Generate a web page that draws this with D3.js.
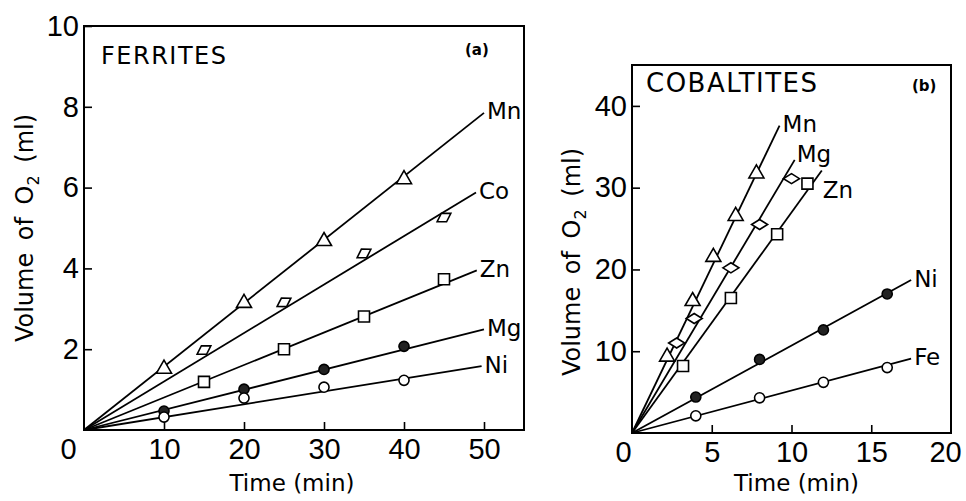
<!DOCTYPE html>
<html>
<head>
<meta charset="utf-8">
<title>Ferrites and cobaltites</title>
<style>
  body { margin: 0; background: #fff; }
  svg text { fill: #000; }
</style>
</head>
<body>
<svg id="chart" xmlns="http://www.w3.org/2000/svg" width="966" height="501"></svg>

<script src="https://cdn.jsdelivr.net/npm/d3@7/dist/d3.min.js"></script>
<script>
// ---- data ----
// (a) ferrites
const ferriteNames   = ["Mn", "Co", "Zn", "Mg", "Ni"];
const ferriteMarkers = ["triangle", "diamond", "square", "dot", "circle"];
const ferriteTimes = [
  [10, 20, 30, 40],
  [15, 25, 35, 45],
  [15, 25, 35, 45],
  [10, 20, 30, 40],
  [10, 20, 30, 40]
];
const ferriteVolumes = [
  [1.53, 3.16, 4.69, 6.22],
  [1.98, 3.16, 4.37, 5.26],
  [1.19, 2.0, 2.81, 3.73],
  [0.47, 1.01, 1.5, 2.07],
  [0.32, 0.79, 1.06, 1.23]
];
// where each fitted line stops (time, volume)
const ferriteLineEnds = [[50, 7.85], [49, 5.88], [49.1, 3.95], [50, 2.49], [49.7, 1.58]];
const ferriteXTicks = [0, 10, 20, 30, 40, 50];
const ferriteYTicks = [2, 4, 6, 8, 10];

// (b) cobaltites
const cobaltNames   = ["Mn", "Mg", "Zn", "Ni", "Fe"];
const cobaltMarkers = ["triangle", "diamond", "square", "dot", "circle"];
const cobaltTimes = [
  [2.2, 3.8, 5.1, 6.5, 7.8],
  [2.8, 3.9, 6.2, 8.0, 10.0],
  [3.2, 6.2, 9.1, 11.0],
  [4, 8, 12, 16],
  [4, 8, 12, 16]
];
const cobaltVolumes = [
  [9.4, 16.2, 21.6, 26.6, 31.8],
  [11.0, 14.0, 20.2, 25.5, 31.1],
  [8.2, 16.5, 24.3, 30.5],
  [4.4, 9.0, 12.6, 17.0],
  [2.1, 4.3, 6.2, 8.0]
];
const cobaltLineEnds = [[9.25, 37.6], [10.2, 33.4], [11.9, 32.1], [17.5, 18.7], [17.5, 9.1]];
const cobaltXTicks = [0, 5, 10, 15, 20];
const cobaltYTicks = [10, 20, 30, 40];

// ---- drawing ----
const svg = d3.select("#chart");
const tickFont = "'Liberation Sans', Arial, sans-serif";
const textFont = "'DejaVu Sans', Verdana, sans-serif";

function markerPath(kind) {
  if (kind === "triangle") return "M0,-8L7.5,5L-7.5,5Z";
  if (kind === "diamond") return "M-8,0L0,-5L8,0L0,5Z";
  if (kind === "square") return "M-5.5,-5.5H5.5V5.5H-5.5Z";
  return d3.symbol(d3.symbolCircle, 80)();
}

function drawPanel(p) {
  const x = d3.scaleLinear().domain(p.xDomain).range(p.xRange);
  const y = d3.scaleLinear().domain(p.yDomain).range(p.yRange);
  const g = svg.append("g");

  // frame
  g.append("rect")
    .attr("x", p.xRange[0]).attr("y", p.yRange[1])
    .attr("width", p.xRange[1] - p.xRange[0])
    .attr("height", p.yRange[0] - p.yRange[1])
    .attr("fill", "none").attr("stroke", "#000").attr("stroke-width", 2);

  // axes, ticks pointing inward
  const xa = g.append("g")
    .attr("transform", `translate(0,${p.yRange[0]})`)
    .call(d3.axisBottom(x).tickValues(p.xTicks).tickSize(-8).tickPadding(8));
  const ya = g.append("g")
    .attr("transform", `translate(${p.xRange[0]},0)`)
    .call(d3.axisLeft(y).tickValues(p.yTicks).tickSize(-8).tickPadding(5));
  [xa, ya].forEach(a => {
    a.select(".domain").remove();
    a.selectAll("line").attr("stroke", "#000").attr("stroke-width", 1.6);
    a.selectAll("text").attr("font-family", tickFont).attr("font-size", 29).attr("fill", "#000");
  });
  xa.selectAll(".tick").filter(d => d === 0).select("line").remove();
  xa.selectAll(".tick").filter(d => d === 0).select("text").attr("dx", p.zeroShift);
  xa.selectAll(".tick").filter(d => d === p.xDomain[1]).select("line").remove();
  xa.selectAll(".tick").filter(d => d === p.xTicks[p.xTicks.length - 1])
    .select("text").attr("dx", p.lastShift);

  // fitted lines through the origin
  p.ends.forEach((e, i) => {
    g.append("line")
      .attr("x1", x(0)).attr("y1", y(0))
      .attr("x2", x(e[0])).attr("y2", y(e[1]))
      .attr("stroke", "#000").attr("stroke-width", 1.8);
    const nudge = p.nudge[p.names[i]] || [3, 0];
    g.append("text")
      .attr("x", x(e[0]) + nudge[0]).attr("y", y(e[1]) + nudge[1])
      .attr("dominant-baseline", "middle")
      .attr("font-family", textFont).attr("font-size", 23)
      .text(p.names[i]);
  });

  // markers
  p.times.forEach((ts, i) => {
    const e = p.ends[i];
    const ang = Math.atan2(y(e[1]) - y(0), x(e[0]) - x(0)) * 180 / Math.PI;
    const kind = p.markers[i];
    g.append("g").selectAll("path")
      .data(ts.map((t, j) => [t, p.vols[i][j]]))
      .join("path")
        .attr("d", markerPath(kind))
        .attr("transform", d => `translate(${x(d[0])},${y(d[1])})` +
          (kind === "diamond" && p.tiltDiamonds ? ` rotate(${ang})` : ""))
        .attr("fill", kind === "dot" ? "#222" : "#fff")
        .attr("stroke", "#000").attr("stroke-width", 1.6);
  });

  // titles and axis labels
  g.append("text")
    .attr("x", p.titlePos[0]).attr("y", p.titlePos[1])
    .attr("font-family", textFont).attr("font-size", p.titleSize)
    .attr("letter-spacing", 1.5)
    .text(p.title);
  g.append("text")
    .attr("x", p.tagPos[0]).attr("y", p.tagPos[1])
    .attr("font-family", textFont).attr("font-size", 15).attr("font-weight", "bold")
    .text(p.tag);
  g.append("text")
    .attr("x", (p.xRange[0] + p.xRange[1]) / 2 + p.xLabelShift).attr("y", 491)
    .attr("text-anchor", "middle")
    .attr("font-family", textFont).attr("font-size", 23)
    .text("Time (min)");
  const yl = g.append("text")
    .attr("transform", `translate(${p.yLabelPos[0]},${p.yLabelPos[1]}) rotate(-90)`)
    .attr("text-anchor", "middle")
    .attr("font-family", textFont).attr("font-size", 24)
    .attr("word-spacing", 5);
  yl.append("tspan").text("Volume of O");
  yl.append("tspan").attr("font-size", 16).attr("dy", 6).text("2");
  yl.append("tspan").attr("dy", -6).text(" (ml)");
}

drawPanel({
  names: ferriteNames, markers: ferriteMarkers, times: ferriteTimes,
  vols: ferriteVolumes, ends: ferriteLineEnds,
  xTicks: ferriteXTicks, yTicks: ferriteYTicks,
  xDomain: [0, 55], yDomain: [0, 10],
  xRange: [84, 524], yRange: [430, 26],
  zeroShift: -16, lastShift: 0, tiltDiamonds: true, nudge: {},
  title: "FERRITES", titlePos: [101, 64], titleSize: 24,
  tag: "(a)", tagPos: [465, 55],
  xLabelShift: -12, yLabelPos: [33, 228]
});

drawPanel({
  names: cobaltNames, markers: cobaltMarkers, times: cobaltTimes,
  vols: cobaltVolumes, ends: cobaltLineEnds,
  xTicks: cobaltXTicks, yTicks: cobaltYTicks,
  xDomain: [0, 20], yDomain: [0, 45],
  xRange: [632, 951], yRange: [433, 65],
  zeroShift: -9, lastShift: -6, tiltDiamonds: false, nudge: {Zn: [1, 21], Mg: [2, -4]},
  title: "COBALTITES", titlePos: [646, 92], titleSize: 26,
  tag: "(b)", tagPos: [912, 91],
  xLabelShift: 5, yLabelPos: [580, 262]
});
</script>
</body>
</html>
